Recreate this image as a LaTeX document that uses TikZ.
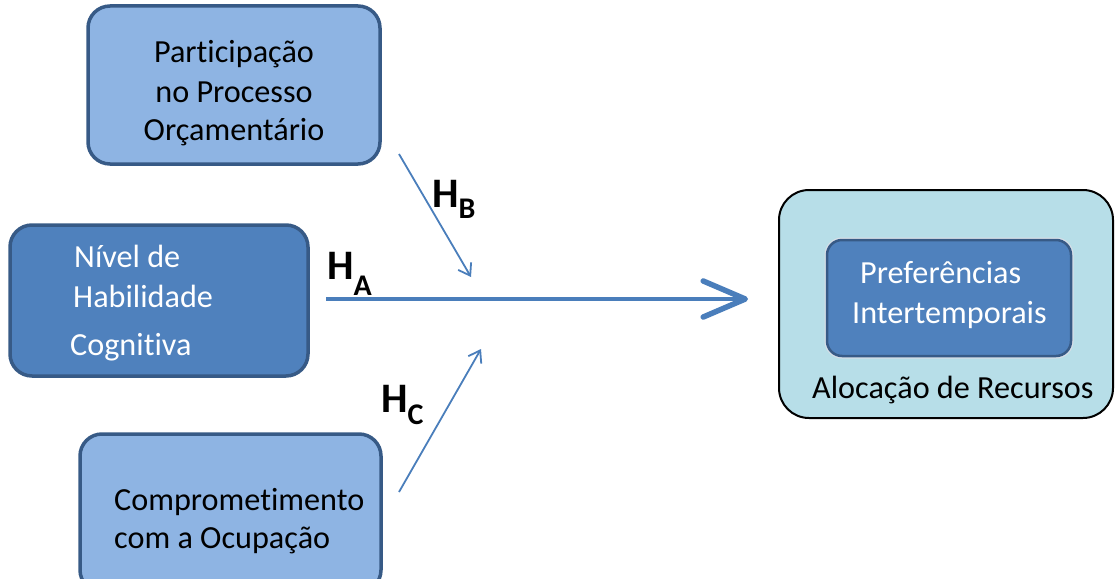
\documentclass[tikz,border=0pt]{standalone}
\usepackage{fontspec}
\setmainfont{Carlito}[Ligatures=NoCommon]
\usetikzlibrary{arrows.meta}

\definecolor{lightfill}{HTML}{8EB4E3}
\definecolor{darkfill}{HTML}{4F81BD}
\definecolor{boxedge}{HTML}{375A86}
\definecolor{tealfill}{HTML}{B7DEE8}
\definecolor{arrowblue}{HTML}{4A7EBB}

% H label with a lowered subscript letter
\newcommand{\hypo}[2]{{\fontsize{42}{48}\selectfont\bfseries H}\raisebox{-#2pt}{\fontsize{30}{34}\selectfont\bfseries #1}}

\tikzset{
  lightbox/.style={draw=boxedge, line width=3.5pt, fill=lightfill, rounded corners=22pt},
  darkbox/.style={draw=boxedge, line width=3.5pt, fill=darkfill, rounded corners=22pt},
  groupbox/.style={draw=black, line width=2pt, fill=tealfill, rounded corners=30pt},
  innerbox/.style={draw=boxedge, line width=2.5pt, fill=darkfill, rounded corners=15pt,
    preaction={draw=white!80!boxedge, line width=5pt}},
  txt/.style={inner sep=0pt, font=\fontsize{32.2}{39}\selectfont},
  wtxt/.style={txt, text=white},
  hlab/.style={inner sep=0pt, anchor=base west},
  thinarrow/.style={draw=arrowblue, line width=1.8pt,
    -{Straight Barb[length=11pt, width=15pt, line width=1.8pt]}},
  mainarrow/.style={draw=arrowblue, line width=3.5pt,
    -{Straight Barb[length=42pt, width=36pt, line width=5.5pt, round]}},
}

\begin{document}
\begin{tikzpicture}[x=1pt, y=-1pt]
  \useasboundingbox (0,0) rectangle (1115,578);
  \clip (0,0) rectangle (1115,578);

  % left-hand boxes
  \draw[lightbox] (88,6) rectangle (380,164);
  \node[txt, anchor=base] (partA) at (234,63) {Participação};
  \node[txt, anchor=base] (partB) at (234,102) {no Processo};
  \node[txt, anchor=base] (partC) at (234,140) {Orçamentário};

  \draw[darkbox] (10,225) rectangle (308,376);
  \node[wtxt, anchor=base west] (nivA) at (74,267) {Nível de};
  \node[wtxt, anchor=base west] (nivB) at (73,307) {Habilidade};
  \node[wtxt, anchor=base west] (nivC) at (70,355) {Cognitiva};

  \draw[lightbox] (80,434) rectangle (381,592);
  \node[txt, anchor=base west] (compA) at (114,510) {Comprometimento};
  \node[txt, anchor=base west] (compB) at (114,548) {com a Ocupação};

  % right-hand group
  \draw[groupbox] (779,190) rectangle (1113,418);
  \draw[innerbox] (827,240) rectangle (1071,356);
  \node[wtxt, anchor=base west] (prefA) at (860,283) {Preferências};
  \node[wtxt, anchor=base west] (prefB) at (852,323) {Intertemporais};
  \node[txt, anchor=base west] (aloc) at (812,398) {Alocação de Recursos};

  % connector end points
  \coordinate (hbStart) at (399,154);
  \coordinate (hbEnd) at (471,277);
  \coordinate (hcStart) at (399,492);
  \coordinate (hcEnd) at (481,349);
  \coordinate (haStart) at (326,299);
  \coordinate (haEnd) at (748,299);

  \draw[mainarrow] (haStart) -- (haEnd);
  \draw[thinarrow] (hbStart) -- (hbEnd);
  \draw[thinarrow] (hcStart) -- (hcEnd);

  % hypothesis labels
  \node[hlab] (labA) at (327,279) {\hypo{A}{16}};
  \node[hlab] (labB) at (432,207) {\hypo{B}{11}};
  \node[hlab] (labC) at (381,412) {\hypo{C}{12}};
\end{tikzpicture}
\end{document}
